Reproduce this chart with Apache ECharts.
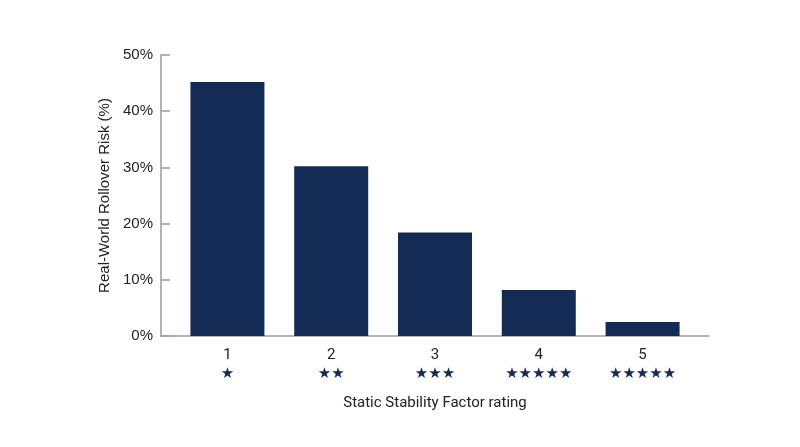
<!DOCTYPE html>
<html>
<head>
<meta charset="utf-8">
<script src="https://cdn.jsdelivr.net/npm/echarts@6/dist/echarts.min.js"></script>
<style>
  html, body { margin: 0; padding: 0; background: #fff; }
  #chart { width: 800px; height: 447px; }
</style>
</head>
<body>
<div id="chart"></div>
<script>
// ratings on the x axis and the risk
var ratings = [1, 2, 3, 4, 5];
var starCounts = [1, 2, 3, 5, 5];
var riskPct = [45.2, 30.2, 18.4, 8.2, 2.5];
var yTicks = [0, 10, 20, 30, 40, 50];

var navy = '#142b55';
var axisGrey = '#9a9a9a';

var myChart = echarts.init(document.getElementById('chart'));

var option = {
  animation: false,
  backgroundColor: '#ffffff',
  grid: { left: 161, right: 91, top: 55, bottom: 111 },
  xAxis: {
    type: 'value',
    min: 0.36,
    max: 5.64,
    name: 'Static Stability Factor rating',
    nameLocation: 'middle',
    nameGap: 60,
    nameTextStyle: { fontFamily: 'Roboto', fontSize: 15, color: '#222' },
    axisLine: { show: true, lineStyle: { color: axisGrey, width: 1.5 } },
    axisTick: { show: false },
    splitLine: { show: false },
    axisLabel: {
      customValues: ratings,
      margin: 9,
      formatter: function (v) {
        var i = ratings.indexOf(v);
        var stars = new Array(starCounts[i] + 1).join('★');
        return '{n|' + v + '}\n{s|' + stars + '}';
      },
      rich: {
        n: { fontFamily: 'Roboto', fontSize: 15, color: '#222', lineHeight: 20 },
        s: { fontFamily: 'DejaVu Sans', fontSize: 15, color: navy, lineHeight: 19 }
      }
    }
  },
  yAxis: {
    type: 'value',
    min: yTicks[0],
    max: yTicks[yTicks.length - 1],
    interval: 10,
    name: 'Real-World Rollover Risk (%)',
    nameLocation: 'middle',
    nameGap: 46,
    nameTextStyle: { fontFamily: 'Liberation Sans', fontSize: 15, color: '#222' },
    axisLine: { show: true, lineStyle: { color: axisGrey, width: 1.5 } },
    axisTick: { show: true, inside: true, length: 9, lineStyle: { color: axisGrey, width: 1.5 } },
    splitLine: { show: false },
    axisLabel: {
      formatter: '{value}%',
      margin: 8,
      fontFamily: 'Liberation Sans',
      fontSize: 15,
      color: '#222'
    }
  },
  series: [{
    type: 'bar',
    barWidth: 74,
    itemStyle: { color: navy },
    data: ratings.map(function (r, i) { return [r, riskPct[i]]; })
  }]
};
myChart.setOption(option);
</script>
</body>
</html>
